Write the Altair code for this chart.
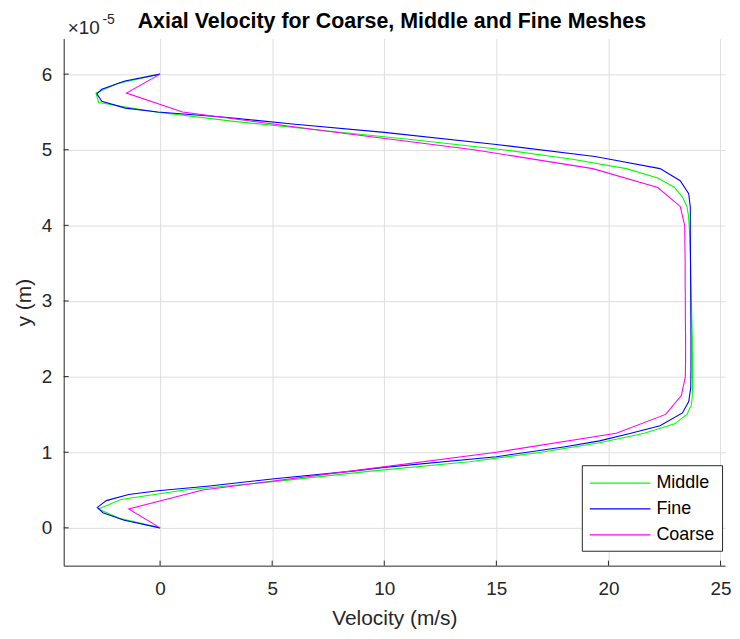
import altair as alt
import pandas as pd

# y positions are in units of 1e-5 m (axis shows x10^-5)
mid_y = [0.0, 0.125, 0.25, 0.375, 0.5, 0.625, 0.75, 0.875, 1.0, 1.125, 1.25, 1.375, 1.5, 1.625, 1.75, 1.875,
         2.0, 2.125, 2.25, 2.375, 2.5, 2.625, 2.75, 2.875, 3.0, 3.125, 3.25, 3.375, 3.5, 3.625, 3.75, 3.875, 4.0,
         4.125, 4.25, 4.375, 4.5, 4.625, 4.75, 4.875, 5.0, 5.125, 5.25, 5.375, 5.5, 5.625, 5.75, 5.875, 6.0]
mid_v = [0.0, -1.8, -2.75, -1.75, 1.1, 5.5, 9.4, 13.8, 17.0, 19.6, 21.6, 22.95, 23.5, 23.7, 23.74, 23.75,
         23.75, 23.75, 23.75, 23.74, 23.74, 23.73, 23.72, 23.71, 23.70, 23.69, 23.68, 23.67, 23.66, 23.65, 23.63, 23.62, 23.60,
         23.57, 23.5, 23.3, 22.95, 22.2, 20.8, 18.4, 15.3, 11.5, 7.4, 3.3, -0.2, -2.74, -2.86, -1.9, 0.0]

fine_y = [0.00, 0.10, 0.20, 0.27, 0.36, 0.44, 0.49, 0.55, 0.65, 0.75, 0.80, 0.94, 1.07, 1.15, 1.25, 1.35, 1.52,
          1.67, 1.85, 2.10, 2.50, 3.00, 3.50, 4.00, 4.24, 4.42, 4.59, 4.75, 4.86, 4.91, 5.07, 5.23, 5.34, 5.43,
          5.50, 5.55, 5.64, 5.74, 5.80, 5.91, 6.00]
fine_v = [0.0, -1.6, -2.55, -2.8, -2.4, -1.4, -0.1, 2.1, 5.1, 8.6, 10.0, 15.0, 18.0, 19.6, 21.0, 22.3, 23.3,
          23.58, 23.67, 23.68, 23.68, 23.67, 23.66, 23.65, 23.65, 23.58, 23.2, 22.3, 20.3, 19.4, 15.0, 10.0, 5.9, 2.9,
          -0.1, -1.55, -2.6, -2.82, -2.6, -1.57, 0.0]

coarse_y = [0.0, 0.25, 0.5, 0.75, 1.0, 1.25, 1.5, 1.75, 2.0, 2.25, 2.5, 2.75, 3.0, 3.25, 3.5, 3.75, 4.0,
            4.25, 4.5, 4.75, 5.0, 5.25, 5.5, 5.75, 6.0]
coarse_v = [0.0, -1.4, 1.9, 8.5, 15.0, 20.35, 22.55, 23.25, 23.43, 23.44, 23.44, 23.43, 23.43, 23.42, 23.42, 23.41, 23.40,
            23.2, 22.2, 19.3, 14.0, 7.3, 1.0, -1.5, 0.0]

mesh_order = ["Middle", "Fine", "Coarse"]
mesh_colors = ["#00ff00", "#0000ff", "#ff00ff"]

x_ticks = [0, 5, 10, 15, 20, 25]
y_ticks = [0, 1, 2, 3, 4, 5, 6]

title_text = ["Axial Velocity for Coarse, Middle and Fine Meshes"]
exp_base_text = ["×10"]
exp_sup_text = ["-5"]

rows = []
for name, ys, vs in [("Middle", mid_y, mid_v), ("Fine", fine_y, fine_v), ("Coarse", coarse_y, coarse_v)]:
    for i, (yy, vv) in enumerate(zip(ys, vs)):
        rows.append({"mesh": name, "idx": i, "y": yy, "v": vv})
df = pd.DataFrame(rows)

font = "Liberation Sans"
axis_col = "#262626"
W, H = 665, 530

x_scale = alt.Scale(domain=[-4.3, 25.2], nice=False, zero=False)
y_scale = alt.Scale(domain=[-0.5, 6.47], nice=False, zero=False)

lines = alt.Chart(df).mark_line(strokeWidth=1.1, clip=True).encode(
    x=alt.X("v:Q", scale=x_scale,
            axis=alt.Axis(values=x_ticks, title="Velocity (m/s)", labelPadding=14, titlePadding=9,
                          format="d")),
    y=alt.Y("y:Q", scale=y_scale,
            axis=alt.Axis(values=y_ticks, title="y (m)", labelPadding=12, titlePadding=7, format="d")),
    color=alt.Color("mesh:N", scale=alt.Scale(domain=mesh_order, range=mesh_colors),
                    legend=alt.Legend(title=None, orient="none", legendX=521, legendY=429,
                                      symbolType="M-1,0H5.1", symbolSize=400, symbolStrokeWidth=1.2,
                                      symbolFillColor="transparent",
                                      labelFont=font, labelFontSize=18, labelColor="#000000",
                                      strokeColor=axis_col, fillColor="white", padding=7,
                                      rowPadding=6, labelOffset=46, cornerRadius=0)),
    order="idx:Q",
)

# inward tick marks (MATLAB style)
xt = alt.Chart(pd.DataFrame({"v": x_ticks})).mark_rule(color=axis_col, strokeWidth=1).encode(
    x=alt.X("v:Q", scale=x_scale), y=alt.value(H), y2=alt.value(H - 5))
yt = alt.Chart(pd.DataFrame({"y": y_ticks})).mark_rule(color=axis_col, strokeWidth=1).encode(
    y=alt.Y("y:Q", scale=y_scale), x=alt.value(0), x2=alt.value(5))

title = alt.Chart(pd.DataFrame({"t": title_text})).mark_text(
    align="center", baseline="alphabetic", font=font, fontSize=21.5, fontWeight="bold", color="#000000"
).encode(text="t:N", x=alt.value(330), y=alt.value(-11))

exp_base = alt.Chart(pd.DataFrame({"t": exp_base_text})).mark_text(
    align="left", baseline="alphabetic", font=font, fontSize=19, color=axis_col
).encode(text="t:N", x=alt.value(4), y=alt.value(-5))
exp_sup = alt.Chart(pd.DataFrame({"t": exp_sup_text})).mark_text(
    align="left", baseline="alphabetic", font=font, fontSize=14, color=axis_col
).encode(text="t:N", x=alt.value(39), y=alt.value(-15))

chart = alt.layer(lines, xt, yt, title, exp_base, exp_sup).properties(
    width=W, height=H,
    autosize=alt.AutoSizeParams(type="none"),
    padding={"left": 56, "top": 29, "right": 7, "bottom": 70},
).configure_view(stroke="transparent").configure_axis(
    labelFont=font, titleFont=font, labelFontSize=19, titleFontSize=21,
    labelColor=axis_col, titleColor=axis_col, domainColor=axis_col, domainWidth=1,
    gridColor="#dedede", ticks=False, titleFontWeight="normal",
)

chart.save("out.html", embed_options={"renderer": "svg", "actions": False})
